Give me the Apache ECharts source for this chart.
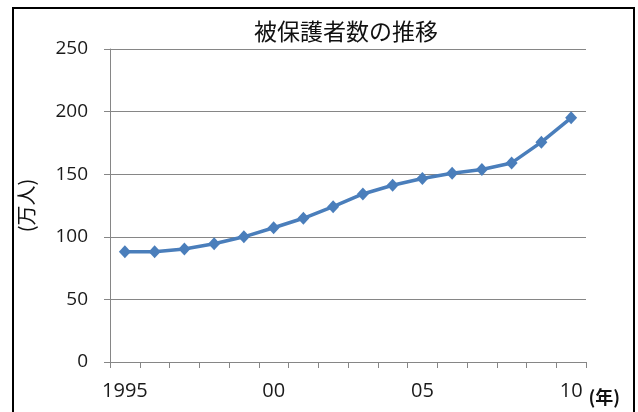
<!DOCTYPE html>
<html>
<head>
<meta charset="utf-8">
<script src="https://cdn.jsdelivr.net/npm/echarts@6/dist/echarts.min.js"></script>
<style>
  html, body { margin: 0; padding: 0; background: #fff; }
  #chart { width: 638px; height: 412px; }
</style>
</head>
<body>
<div id="chart"></div>
<script>
// 年（カテゴリ）と目盛ラベル
const years = ['1995', '1996', '1997', '1998', '1999', '2000', '2001', '2002',
  '2003', '2004', '2005', '2006', '2007', '2008', '2009', '2010'];
const yearLabels = ['1995', '', '', '', '', '00', '', '', '', '', '05', '', '', '', '', '10'];
// 被保護者数（万人）
const recipients = [88, 88, 90.3, 94.4, 100, 107.2, 114.8, 124.1,
  134.2, 141.2, 146.5, 150.8, 153.7, 159, 175.6, 195];
const yTicks = [0, 50, 100, 150, 200, 250];

const gray = '#868686';
const labelFont = '"Open Sans"';
const jpFont = '"Noto Sans CJK JP"';

const chart = echarts.init(document.getElementById('chart'));
chart.setOption({
  animation: false,
  title: {
    text: '被保護者数の推移',
    left: 249,
    top: 15,
    textStyle: { fontFamily: jpFont, fontSize: 23, fontWeight: 'normal', color: '#111' },
  },
  graphic: [
    {
      type: 'rect',
      shape: { x: 13, y: 8, width: 621, height: 420 },
      style: { fill: 'none', stroke: '#000', lineWidth: 2 },
      z: 100,
    },
  ],
  grid: { left: 110, right: 52, top: 49, bottom: 50 },
  xAxis: {
    type: 'category',
    data: years,
    boundaryGap: true,
    name: '(年)',
    nameLocation: 'end',
    nameGap: 0,
    nameTextStyle: {
      fontFamily: jpFont, fontSize: 18, fontWeight: 'bold', color: '#111',
      verticalAlign: 'top', padding: [26, 0, 0, 0],
    },
    axisLine: { lineStyle: { color: gray, width: 1 } },
    axisTick: { show: true, length: 6, lineStyle: { color: gray } },
    axisLabel: {
      interval: 0,
      margin: 19,
      fontFamily: labelFont,
      fontSize: 20,
      color: '#1a1a1a',
      formatter: (v, i) => yearLabels[i],
    },
    splitLine: { show: false },
  },
  yAxis: {
    type: 'value',
    min: yTicks[0],
    max: yTicks[yTicks.length - 1],
    interval: 50,
    name: '(万人)',
    nameLocation: 'middle',
    nameGap: 74,
    nameTextStyle: { fontFamily: jpFont, fontSize: 20, color: '#111' },
    axisLine: { show: true, lineStyle: { color: gray, width: 1 } },
    axisTick: { show: true, length: 6, lineStyle: { color: gray } },
    axisLabel: { margin: 22, fontFamily: labelFont, fontSize: 19, color: '#1a1a1a' },
    splitLine: { show: true, lineStyle: { color: gray, width: 1 } },
  },
  series: [
    {
      name: '被保護者数',
      type: 'line',
      data: recipients,
      color: '#4a7ebb',
      lineStyle: { width: 3.5 },
      symbol: 'diamond',
      symbolSize: [12, 13],
      itemStyle: { color: '#4a7ebb' },
    },
  ],
});
</script>
</body>
</html>
